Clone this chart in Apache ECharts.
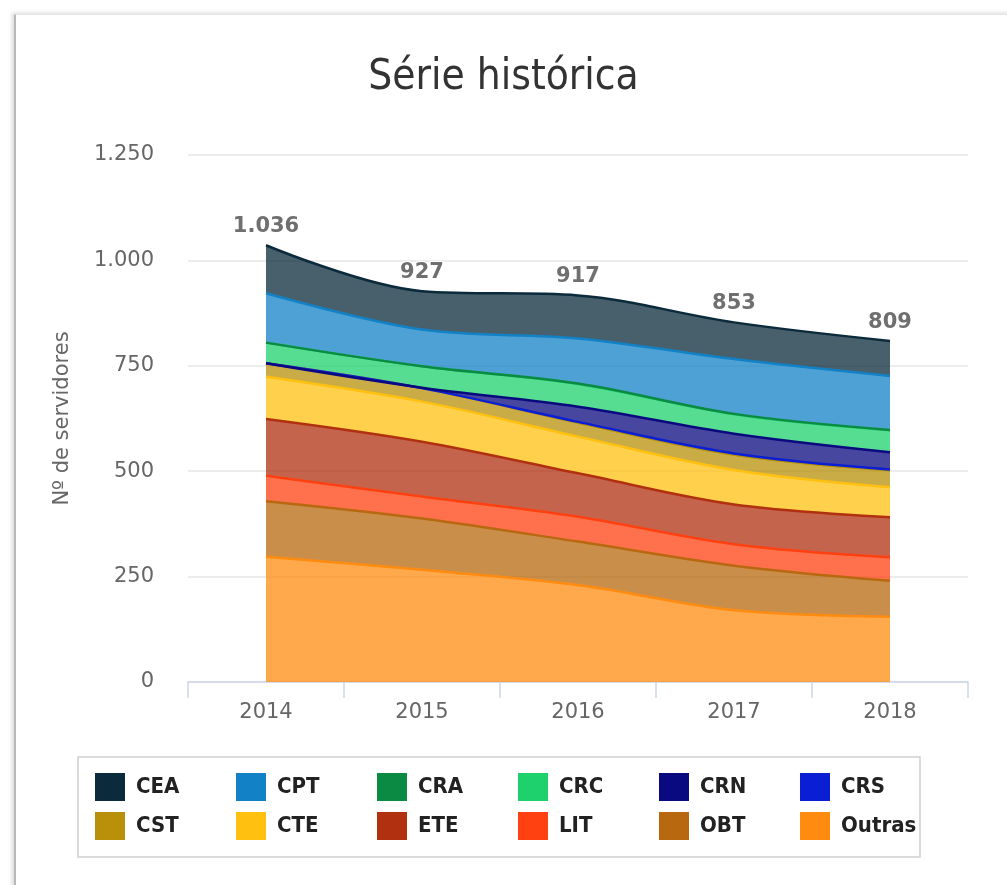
<!DOCTYPE html>
<html>
<head>
<meta charset="utf-8">
<script src="https://cdn.jsdelivr.net/npm/echarts@6/dist/echarts.min.js"></script>
<style>
  html, body { margin: 0; padding: 0; background: #fff; }
  #card {
    position: absolute; left: 14px; top: 14px; width: 1100px; height: 1000px;
    border-left: 2px solid #b8b8b8; border-top: 1px solid #e4e4e4;
    box-shadow: -2px -1px 4px rgba(0,0,0,0.15);
  }
  #main { position: absolute; left: 0; top: 0; width: 1007px; height: 885px; }
</style>
</head>
<body>
<div id="card"></div>
<div id="main"></div>
<script>
// anos
var years = ['2014', '2015', '2016', '2017', '2018'];

// nº de servidores por órgão
var CEA    = [114,  91, 102,  87,  83];
var CPT    = [117,  87, 107, 130, 128];
var CRA    = [  0,   0,   1,   1,   1];
var CRC    = [ 49,  51,  54,  46,  52];
var CRN    = [  0,   1,  36,  47,  41];
var CRS    = [  0,   0,   2,   3,   2];
var CST    = [ 32,  32,  33,  36,  40];
var CTE    = [100,  95,  87,  82,  71];
var ETE    = [135, 130, 103,  94,  95];
var LIT    = [ 60,  52,  59,  51,  56];
var OBT    = [132, 122, 103, 106,  85];
var Outras = [297, 266, 230, 170, 155];

var yTicks = [0, 250, 500, 750, 1000, 1250];

// ordem da legenda (de cima para baixo na pilha)
var names = ['CEA', 'CPT', 'CRA', 'CRC', 'CRN', 'CRS', 'CST', 'CTE', 'ETE', 'LIT', 'OBT', 'Outras'];
var values = [CEA, CPT, CRA, CRC, CRN, CRS, CST, CTE, ETE, LIT, OBT, Outras];
var colors = ['#0b2a3b', '#1281c6', '#0b8a44', '#1fd16c', '#0a0a80', '#0a1fd4',
              '#b8900a', '#ffc010', '#b03010', '#ff4010', '#b8680f', '#ff8c10'];

var axisFont = "'DejaVu Sans', sans-serif";
var narrowFont = "'Liberation Sans Narrow', 'DejaVu Sans Condensed', sans-serif";

function fmt(n) {
  var s = String(Math.round(n));
  return s.replace(/\B(?=(\d{3})+(?!\d))/g, '.');
}

var totals = years.map(function (_, i) {
  return values.reduce(function (a, arr) { return a + arr[i]; }, 0);
});

var series = [];
// empilha de baixo (Outras) para cima (CEA)
for (var k = names.length - 1; k >= 0; k--) {
  var s = {
    name: names[k],
    type: 'line',
    stack: 'total',
    smooth: 0.35,
    showSymbol: false,
    symbol: 'none',
    data: values[k],
    lineStyle: { color: colors[k], width: 2.5 },
    itemStyle: { color: colors[k] },
    areaStyle: { color: colors[k], opacity: 0.75 },
    emphasis: { disabled: true },
    z: 2
  };
  if (k === 0) {
    s.showSymbol = true;
    s.symbol = 'circle';
    s.symbolSize = 0.1;
    s.label = {
      show: true,
      position: 'top',
      distance: 8,
      formatter: function (p) { return fmt(totals[p.dataIndex]); },
      color: '#6f6f6f',
      fontWeight: 'bold',
      fontSize: 21,
      fontFamily: axisFont,
      textBorderColor: '#fff',
      textBorderWidth: 2
    };
  }
  series.push(s);
}

// uma legenda por item, em grade 6 x 2
var legends = names.map(function (n, i) {
  return {
    data: [n],
    left: 95 + (i % 6) * 141,
    top: 773 + Math.floor(i / 6) * 39,
    padding: 0,
    icon: 'rect',
    itemWidth: 30,
    itemHeight: 28,
    selectedMode: false,
    textStyle: {
      fontFamily: narrowFont,
      fontSize: 22,
      fontWeight: 'bold',
      color: '#222',
      padding: [0, 0, 0, 6]
    }
  };
});

var chart = echarts.init(document.getElementById('main'), null, { renderer: 'canvas' });
chart.setOption({
  animation: false,
  title: {
    text: 'Série histórica',
    left: 'center',
    top: 52,
    textStyle: {
      fontFamily: narrowFont,
      fontSize: 42,
      fontWeight: 'normal',
      color: '#333'
    }
  },
  grid: { left: 188, right: 39, top: 155, bottom: 203 },
  graphic: [{
    type: 'rect',
    shape: { x: 78, y: 757, width: 842, height: 100 },
    style: { fill: 'none', stroke: '#cfcfcf', lineWidth: 1.5 },
    silent: true
  }],
  legend: legends,
  xAxis: {
    type: 'category',
    data: years,
    boundaryGap: true,
    axisLine: { lineStyle: { color: '#ccd6eb', width: 1.5 } },
    axisTick: { show: true, length: 16, lineStyle: { color: '#ccd6eb', width: 1.5 } },
    axisLabel: {
      color: '#666',
      fontSize: 21,
      margin: 20,
      fontFamily: axisFont
    }
  },
  yAxis: {
    type: 'value',
    min: yTicks[0],
    max: yTicks[yTicks.length - 1],
    interval: 250,
    name: 'Nº de servidores',
    nameLocation: 'middle',
    nameGap: 115,
    nameTextStyle: { color: '#666', fontSize: 21, fontFamily: axisFont },
    axisLine: { show: false },
    axisTick: { show: false },
    splitLine: { lineStyle: { color: '#e6e6e6', width: 1.5 } },
    axisLabel: {
      color: '#666',
      fontSize: 21,
      margin: 34,
      fontFamily: axisFont,
      formatter: function (v) { return fmt(v); }
    }
  },
  series: series
});
</script>
</body>
</html>
